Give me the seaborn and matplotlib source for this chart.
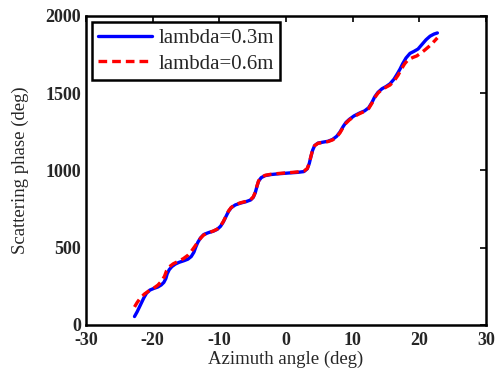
import numpy as np
import pandas as pd
import seaborn as sns
import matplotlib.pyplot as plt

# values
az_03 = [-22.7, -22.3, -21.8, -21.3, -20.9, -20.4, -19.8, -19.2, -18.7, -18.3,
         -18.0, -17.8, -17.5, -17.1, -16.6, -16.0, -15.3, -14.7, -14.2, -13.8,
         -13.5, -13.2, -12.8, -12.3, -11.6, -10.9, -10.3, -9.8, -9.4, -9.0,
         -8.6, -8.2, -7.6, -6.8, -6.0, -5.3, -4.9, -4.6, -4.35, -4.1,
         -3.7, -3.1, -2.2, -1.0, 0.5, 1.8, 2.7, 3.2, 3.5, 3.75,
         4.0, 4.3, 4.8, 5.5, 6.3, 7.0, 7.6, 8.1, 8.6, 9.0,
         9.5, 10.2, 11.0, 11.8, 12.4, 12.9, 13.3, 13.8, 14.4, 15.0,
         15.6, 16.2, 16.7, 17.1, 17.5, 18.0, 18.6, 19.2, 19.8, 20.4,
         21.0, 21.6, 22.2, 22.7]
phase_03 = [54, 85, 130, 175, 205, 225, 236, 245, 258, 275,
            300, 330, 357, 377, 393, 405, 415, 425, 442, 470,
            505, 535, 563, 585, 597, 606, 618, 638, 665, 700,
            735, 758, 776, 788, 797, 808, 825, 855, 895, 930,
            953, 966, 973, 978, 983, 987, 992, 1010, 1045, 1090,
            1130, 1160, 1176, 1182, 1188, 1200, 1220, 1248, 1285, 1310,
            1330, 1352, 1370, 1385, 1405, 1440, 1475, 1505, 1528, 1542,
            1560, 1590, 1625, 1655, 1690, 1727, 1757, 1770, 1785, 1815,
            1845, 1868, 1882, 1889]

az_06 = [-22.7, -22.3, -21.8, -21.2, -20.6, -19.9, -19.2, -18.6, -18.2, -17.9,
         -17.5, -16.9, -16.2, -15.4, -14.7, -14.2, -13.7, -13.3, -12.9, -12.4,
         -11.6, -10.9, -10.3, -9.8, -9.4, -9.0, -8.6, -8.2, -7.6, -6.8,
         -6.0, -5.3, -4.9, -4.6, -4.35, -4.1, -3.7, -3.1, -2.2, -1.0,
         0.5, 1.8, 2.7, 3.2, 3.5, 3.75, 4.0, 4.3, 4.8, 5.5,
         6.3, 7.0, 7.6, 8.1, 8.6, 9.0, 9.5, 10.2, 11.0, 11.8,
         12.4, 12.9, 13.3, 13.8, 14.4, 15.0, 15.6, 16.2, 16.8, 17.3,
         17.8, 18.3, 19.0, 19.6, 20.2, 20.8, 21.4, 22.0, 22.7]
phase_06 = [116, 145, 175, 200, 218, 235, 257, 285, 315, 350,
            375, 395, 410, 428, 450, 475, 505, 530, 555, 580,
            597, 607, 620, 640, 668, 702, 737, 760, 778, 790,
            799, 810, 828, 858, 898, 932, 955, 968, 975, 980,
            985, 990, 995, 1012, 1047, 1092, 1132, 1160, 1175, 1180,
            1186, 1197, 1216, 1243, 1280, 1305, 1326, 1348, 1366, 1382,
            1400, 1435, 1470, 1500, 1524, 1538, 1552, 1578, 1615, 1655,
            1690, 1715, 1730, 1740, 1758, 1778, 1800, 1825, 1857]

labels = ["lambda=0.3m", "lambda=0.6m"]

sns.set_style("white")
plt.rcParams['font.family'] = ['Liberation Serif', 'DejaVu Serif']
plt.rcParams['xtick.direction'] = 'in'
plt.rcParams['ytick.direction'] = 'in'
plt.rcParams['axes.unicode_minus'] = False

fig = plt.figure(figsize=(4.96, 3.76), dpi=100)
ax = fig.add_axes([0.173, 0.136, 0.807, 0.822])

df1 = pd.DataFrame({"az": az_03, "ph": phase_03})
df2 = pd.DataFrame({"az": az_06, "ph": phase_06})
sns.lineplot(data=df1, x="az", y="ph", ax=ax, color="#0000ff", lw=2.4,
             label=labels[0], sort=False, estimator=None,
             solid_joinstyle="round", solid_capstyle="round")
sns.lineplot(data=df2, x="az", y="ph", ax=ax, color="#ff0000", lw=2.4,
             linestyle=(0, (2.6, 1.5)), label=labels[1], sort=False,
             estimator=None, dash_joinstyle="round")

ax.set_xlim(-30, 30)
ax.set_ylim(0, 2000)
ax.set_xticks([-30, -20, -10, 0, 10, 20, 30])
ax.set_yticks([0, 500, 1000, 1500, 2000])
ax.tick_params(axis="both", which="both", top=True, right=True, length=4,
               width=1.2, color="black", labelsize=13)
ax.tick_params(axis="x", pad=5)
for t in ax.get_xticklabels() + ax.get_yticklabels():
    t.set_fontweight("bold")
for s in ax.spines.values():
    s.set_color("black")
    s.set_linewidth(1.8)

ax.set_xlabel("Azimuth angle (deg)", fontsize=13.5, labelpad=1)
ax.set_ylabel("Scattering phase (deg)", fontsize=13.5, labelpad=12)

leg = ax.legend(loc="upper left", fontsize=15, frameon=True, fancybox=False,
                edgecolor="black", framealpha=1, borderpad=0.3,
                handlelength=2.6, handletextpad=0.3, labelspacing=0.3,
                borderaxespad=0.3)
leg.get_frame().set_linewidth(1.8)

fig.savefig("out.png", dpi=100)
